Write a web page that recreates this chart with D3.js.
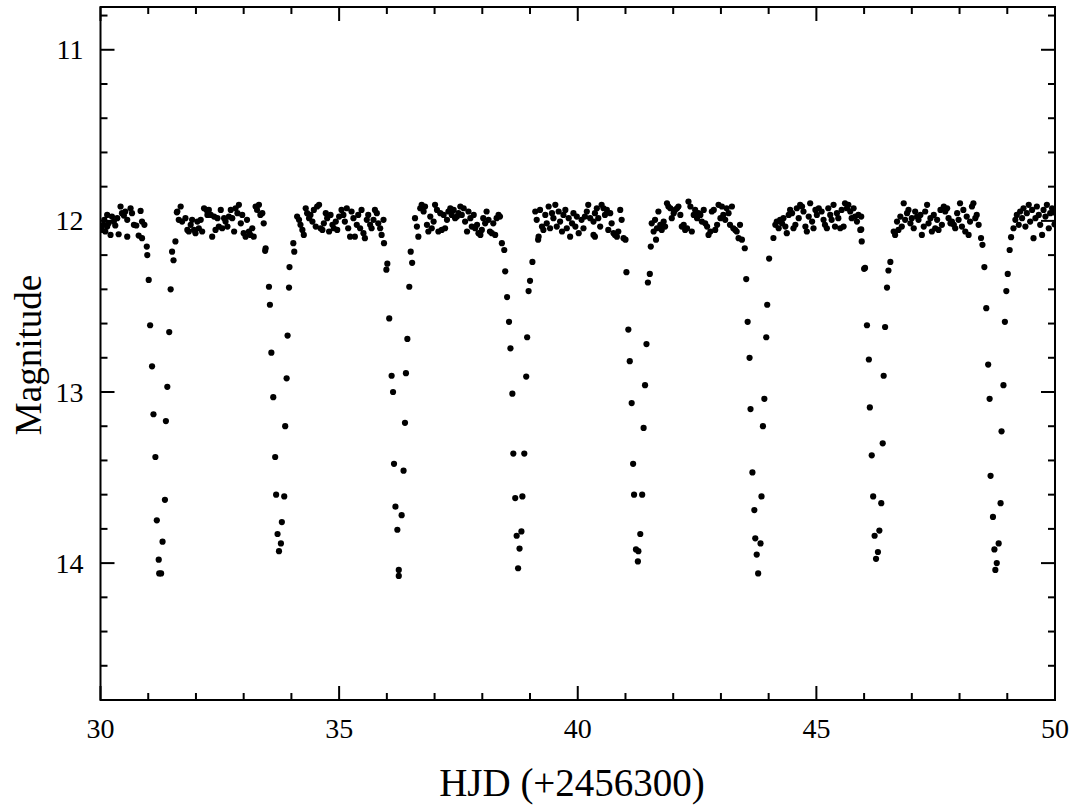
<!DOCTYPE html>
<html>
<head>
<meta charset="utf-8">
<script src="https://cdn.jsdelivr.net/npm/d3@7"></script>
<style>
  html, body { margin: 0; padding: 0; background: #fff; }
  svg { display: block; }
  text { font-family: "Liberation Serif", "Times New Roman", serif; fill: #000; }
</style>
</head>
<body>
<svg id="chart" width="1072" height="806"></svg>
<script>
// Out-of-eclipse photometry, [HJD - 2456300, magnitude]
const brightPhase = [
  [30.03,12.053],[30.06,12.023],[30.08,11.994],[30.10,12.062],[30.14,12.033],[30.14,11.965],[30.17,12.014],
  [30.21,12.082],[30.24,11.975],[30.28,12.004],[30.31,12.027],[30.35,11.984],[30.38,12.078],[30.42,11.916],
  [30.45,11.955],[30.49,11.969],[30.52,11.945],[30.56,11.994],[30.56,12.092],[30.63,11.926],[30.66,11.955],
  [30.70,12.023],[30.75,12.027],[30.80,12.086],[30.84,11.942],[30.87,12.004],[30.87,12.101],[30.92,12.023],
  [31.61,11.945],[31.64,11.994],[31.68,11.916],[31.71,12.004],[31.78,11.984],[31.82,12.053],[31.85,12.062],
  [31.89,12.023],[31.92,11.994],[31.96,12.053],[31.99,12.072],[32.03,12.004],[32.06,12.043],[32.10,11.994],
  [32.13,12.062],[32.17,11.926],[32.22,11.936],[32.24,11.965],[32.27,11.936],[32.31,11.965],[32.34,12.092],
  [32.38,11.975],[32.41,12.053],[32.45,11.984],[32.48,12.033],[32.52,11.936],[32.55,12.043],[32.59,11.984],
  [32.62,12.004],[32.66,12.033],[32.69,11.975],[32.73,11.936],[32.76,11.984],[32.80,12.062],[32.83,11.926],
  [32.87,11.955],[32.90,11.906],[32.94,12.014],[32.97,11.965],[33.00,12.072],[33.04,12.092],[33.07,11.994],
  [33.11,12.062],[33.14,12.082],[33.18,12.043],[33.21,12.092],[33.25,11.916],[33.28,11.936],[33.32,11.906],
  [33.35,11.965],[33.39,11.955],[33.42,12.014],
  [34.12,11.975],[34.16,11.994],[34.19,12.023],[34.23,12.053],[34.26,12.082],[34.30,11.926],[34.33,11.955],
  [34.37,11.984],[34.40,11.965],[34.44,12.004],[34.47,11.936],[34.51,12.033],[34.54,11.916],[34.58,11.906],
  [34.61,12.043],[34.65,12.053],[34.68,12.014],[34.72,11.955],[34.75,11.984],[34.79,12.062],[34.82,11.965],
  [34.86,12.023],[34.89,12.043],[34.93,12.004],[34.96,12.053],[35.00,11.975],[35.05,11.936],[35.09,11.965],
  [35.12,12.004],[35.16,11.926],[35.19,12.043],[35.23,12.092],[35.26,11.945],[35.30,11.984],[35.33,12.092],
  [35.37,12.023],[35.40,11.965],[35.44,12.043],[35.47,11.936],[35.51,12.072],[35.54,12.101],[35.58,11.994],
  [35.61,11.965],[35.65,12.023],[35.68,12.043],[35.72,11.994],[35.75,11.936],[35.79,11.955],[35.82,12.014],
  [35.86,12.043],[35.89,12.082],[35.93,11.994],
  [36.59,11.984],[36.63,12.033],[36.66,12.092],[36.70,11.926],[36.73,11.906],[36.77,11.945],[36.80,11.916],
  [36.84,12.023],[36.87,12.062],[36.91,11.975],[36.94,12.043],[36.98,12.004],[37.01,11.906],[37.05,11.936],
  [37.08,12.062],[37.12,11.955],[37.15,12.053],[37.19,11.965],[37.22,12.043],[37.26,11.994],[37.29,11.945],
  [37.33,11.926],[37.36,11.965],[37.40,11.936],[37.43,11.984],[37.47,11.975],[37.50,11.955],[37.54,11.916],
  [37.57,11.965],[37.61,11.926],[37.64,12.004],[37.68,12.062],[37.71,11.945],[37.75,11.984],[37.78,12.033],
  [37.82,11.965],[37.85,12.043],[37.89,12.023],[37.92,12.072],[37.96,12.082],[37.99,12.053],[38.02,11.984],
  [38.06,12.014],[38.09,11.945],[38.13,11.994],[38.16,12.062],[38.20,12.072],[38.23,12.014],[38.27,12.082],
  [38.30,11.984],[38.34,11.965],[38.37,11.975],
  [39.11,11.945],[39.14,11.994],[39.18,12.092],[39.21,11.936],[39.25,12.033],[39.28,12.053],[39.32,11.965],
  [39.35,12.014],[39.39,11.916],[39.42,12.043],[39.46,11.955],[39.49,11.984],[39.53,11.906],[39.56,12.033],
  [39.60,11.945],[39.63,12.004],[39.67,12.062],[39.70,11.965],[39.74,11.936],[39.77,12.043],[39.81,11.984],
  [39.84,12.092],[39.88,12.014],[39.91,11.955],[39.95,12.033],[39.98,11.975],[40.02,12.072],[40.08,11.994],
  [40.12,12.043],[40.15,11.975],[40.19,11.945],[40.22,11.906],[40.26,11.984],[40.33,12.004],[40.33,12.082],
  [40.36,11.955],[40.36,12.092],[40.40,11.926],[40.43,11.984],[40.47,12.033],[40.50,11.906],[40.54,11.926],
  [40.57,11.965],[40.61,11.936],[40.64,12.053],[40.68,11.955],[40.71,12.014],[40.75,12.072],[40.78,12.082],
  [40.82,12.092],[40.85,12.062],[40.89,11.936],[40.92,11.994],[40.96,12.101],
  [41.55,12.014],[41.59,12.062],[41.62,11.994],[41.66,12.043],[41.69,11.945],[41.73,12.023],[41.76,12.053],
  [41.80,12.004],[41.83,12.033],[41.87,11.897],[41.90,11.916],[41.94,11.926],[41.97,11.984],[42.01,11.955],
  [42.04,11.936],[42.08,11.926],[42.11,11.916],[42.15,11.965],[42.18,12.033],[42.22,12.023],[42.25,12.053],
  [42.29,12.043],[42.32,11.887],[42.36,11.916],[42.39,12.062],[42.43,11.965],[42.46,11.936],[42.50,11.984],
  [42.53,11.955],[42.57,11.965],[42.60,12.004],[42.64,11.936],[42.67,12.014],[42.71,12.033],[42.74,12.082],
  [42.78,12.062],[42.81,11.945],[42.85,11.936],[42.88,12.053],[42.92,12.023],[42.95,11.906],[42.99,11.984],
  [43.02,11.916],[43.05,11.965],[43.09,11.994],[43.12,11.926],[43.16,11.955],[43.19,12.023],[43.23,11.916],
  [43.26,12.043],[43.30,12.053],[43.33,12.062],[43.37,12.101],[43.40,12.023],
  [44.14,12.023],[44.17,12.004],[44.21,12.043],[44.24,11.994],[44.28,12.014],[44.31,11.984],[44.35,12.033],
  [44.38,12.072],[44.42,11.965],[44.45,11.936],[44.49,11.955],[44.52,12.043],[44.56,12.023],[44.59,11.926],
  [44.63,11.984],[44.66,11.906],[44.70,11.916],[44.73,11.945],[44.77,12.033],[44.80,12.062],[44.84,11.975],
  [44.87,11.897],[44.91,12.004],[44.94,12.043],[44.98,11.936],[45.01,11.965],[45.05,11.926],[45.11,11.945],
  [45.15,11.994],[45.18,12.023],[45.22,12.043],[45.25,11.926],[45.29,11.965],[45.32,11.994],[45.36,11.906],
  [45.39,12.033],[45.43,11.955],[45.46,11.984],[45.50,12.043],[45.53,11.936],[45.57,12.033],[45.60,11.897],
  [45.64,11.926],[45.67,11.906],[45.71,11.945],[45.74,11.984],[45.78,11.926],[45.81,11.975],[45.85,12.004],
  [45.88,11.965],[45.92,12.053],
  [46.62,12.062],[46.65,12.082],[46.69,12.004],[46.72,12.053],[46.76,11.975],[46.79,12.033],[46.83,11.897],
  [46.86,11.994],[46.90,11.955],[46.93,11.936],[46.97,12.014],[47.00,11.984],[47.04,12.043],[47.07,11.945],
  [47.11,11.975],[47.14,11.994],[47.18,11.965],[47.21,12.082],[47.25,12.033],[47.28,11.945],[47.32,11.906],
  [47.35,12.014],[47.39,11.984],[47.42,12.062],[47.46,11.965],[47.49,12.043],[47.53,11.994],[47.56,12.053],
  [47.60,11.936],[47.63,12.023],[47.67,11.916],[47.70,11.945],[47.74,11.926],[47.77,11.984],[47.81,12.014],
  [47.84,12.004],[47.88,12.023],[47.91,12.043],[47.95,11.955],[47.98,11.994],[48.01,11.897],[48.05,12.033],
  [48.08,11.936],[48.12,12.062],[48.15,11.975],[48.19,12.082],[48.22,12.004],[48.26,11.916],[48.29,11.897],
  [48.33,11.984],[48.36,11.965],[48.40,12.023],
  [49.13,12.043],[49.17,11.994],[49.20,11.965],[49.24,12.023],[49.27,11.945],[49.31,11.984],[49.34,11.926],
  [49.38,12.033],[49.41,11.955],[49.45,11.906],[49.48,12.004],[49.52,11.936],[49.55,12.101],[49.59,11.984],
  [49.62,11.916],[49.66,11.965],[49.69,12.023],[49.73,12.082],[49.76,11.936],[49.80,11.975],[49.83,11.906],
  [49.87,12.043],[49.90,11.955],[49.94,11.926],[49.97,11.950],[49.99,12.020]
];

// Ingress / egress of each eclipse, [HJD - 2456300, magnitude]
const eclipses = [
  [30.97,12.15],[30.98,12.20],[31.01,12.345],[31.04,12.61],[31.08,12.85],[31.11,13.13],[31.15,13.38],
  [31.18,13.75],[31.22,13.98],[31.23,14.06],[31.27,14.06],[31.30,13.875],[31.35,13.63],[31.37,13.17],
  [31.40,12.97],[31.44,12.65],[31.47,12.40],[31.50,12.18],[31.53,12.23],[31.57,12.12],[31.60,11.95],
  [33.45,12.175],[33.46,12.16],[33.53,12.385],[33.55,12.49],[33.58,12.77],[33.62,13.03],[33.66,13.38],
  [33.68,13.60],[33.71,13.83],[33.74,13.93],[33.78,13.885],[33.80,13.76],[33.85,13.61],[33.87,13.20],
  [33.90,12.92],[33.92,12.67],[33.95,12.39],[33.96,12.27],[34.04,12.13],[34.06,12.18],
  [35.94,12.13],[35.99,12.285],[36.01,12.25],[36.05,12.57],[36.10,12.905],[36.13,13.00],[36.15,13.42],
  [36.18,13.67],[36.22,13.805],[36.25,14.04],[36.25,14.075],[36.31,13.72],[36.35,13.46],[36.38,13.18],
  [36.40,12.89],[36.43,12.69],[36.47,12.385],[36.50,12.18],[36.53,12.245],
  [38.41,12.13],[38.46,12.17],[38.48,12.295],[38.52,12.445],[38.56,12.59],[38.59,12.745],[38.63,13.01],
  [38.65,13.36],[38.69,13.62],[38.72,13.84],[38.75,14.03],[38.78,13.915],[38.82,13.815],[38.84,13.61],
  [38.88,13.36],[38.92,12.91],[38.94,12.68],[38.97,12.41],[39.00,12.35],[39.05,12.24],[39.17,12.11],
  [41.00,12.11],[41.02,12.30],[41.06,12.635],[41.09,12.82],[41.13,13.065],[41.16,13.42],[41.18,13.60],
  [41.22,13.92],[41.26,13.99],[41.27,13.93],[41.31,13.83],[41.35,13.60],[41.38,13.21],[41.41,12.96],
  [41.44,12.72],[41.47,12.36],[41.51,12.31],[41.53,12.15],[41.64,12.11],
  [43.44,12.11],[43.50,12.16],[43.53,12.34],[43.56,12.59],[43.60,12.80],[43.62,13.10],[43.66,13.47],
  [43.70,13.69],[43.72,13.855],[43.75,13.95],[43.78,14.06],[43.83,13.885],[43.85,13.61],[43.88,13.20],
  [43.91,13.04],[43.95,12.68],[43.97,12.49],[44.01,12.22],[44.10,12.10],
  [45.94,11.975],[45.94,12.05],[45.95,12.12],[46.00,12.28],[46.02,12.275],[46.06,12.61],[46.10,12.81],
  [46.12,13.09],[46.16,13.37],[46.19,13.61],[46.22,13.84],[46.25,13.975],[46.29,13.935],[46.32,13.81],
  [46.36,13.65],[46.39,13.30],[46.41,12.905],[46.44,12.62],[46.48,12.39],[46.51,12.29],[46.55,12.24],
  [48.45,12.10],[48.48,12.14],[48.52,12.27],[48.56,12.51],[48.60,12.84],[48.63,13.04],[48.65,13.49],
  [48.70,13.73],[48.73,13.92],[48.75,14.04],[48.78,14.00],[48.82,13.885],[48.86,13.65],[48.88,13.23],
  [48.92,12.96],[48.95,12.59],[48.98,12.41],[49.01,12.31],[49.05,12.17],[49.08,12.095]
];

const xDomain = [30, 50];
const yDomain = [10.75, 14.8];
const xMajor = [30, 35, 40, 45, 50];
const yMajor = [11, 12, 13, 14];
const xTitle = "HJD (+2456300)";
const yTitle = "Magnitude";

const svg = d3.select("#chart");
const plotL = 100.5, plotR = 1055, plotT = 7, plotB = 700;

const x = d3.scaleLinear().domain(xDomain).range([plotL, plotR]);
const y = d3.scaleLinear().domain(yDomain).range([plotT, plotB]);

const xMinor = d3.range(30, 50.001, 1);
const yMinor = d3.range(10.8, 14.801, 0.2).map(v => +v.toFixed(1));

svg.append("clipPath").attr("id", "plot-clip")
  .append("rect").attr("x", plotL).attr("y", plotT)
  .attr("width", plotR - plotL).attr("height", plotB - plotT);

// data points
const pts = brightPhase.concat(eclipses);
svg.append("g").attr("clip-path", "url(#plot-clip)")
  .selectAll("circle").data(pts).join("circle")
  .attr("cx", d => x(d[0])).attr("cy", d => y(d[1]))
  .attr("r", 3.1).attr("fill", "#000");

// frame
svg.append("rect").attr("x", plotL).attr("y", plotT)
  .attr("width", plotR - plotL).attr("height", plotB - plotT)
  .attr("fill", "none").attr("stroke", "#000").attr("stroke-width", 2);

const tickStyle = sel => sel.attr("stroke", "#000").attr("stroke-width", 2);
const isMajorX = v => xMajor.some(m => Math.abs(m - v) < 1e-6);
const isMajorY = v => yMajor.some(m => Math.abs(m - v) < 1e-6);

// inward ticks on all four sides
const tg = svg.append("g");
xMinor.forEach(v => {
  const len = isMajorX(v) ? 14 : 7;
  tg.append("line").attr("x1", x(v)).attr("x2", x(v)).attr("y1", plotB).attr("y2", plotB - len).call(tickStyle);
  tg.append("line").attr("x1", x(v)).attr("x2", x(v)).attr("y1", plotT).attr("y2", plotT + len).call(tickStyle);
});
yMinor.forEach(v => {
  const len = isMajorY(v) ? 14 : 7;
  tg.append("line").attr("y1", y(v)).attr("y2", y(v)).attr("x1", plotL).attr("x2", plotL + len).call(tickStyle);
  tg.append("line").attr("y1", y(v)).attr("y2", y(v)).attr("x1", plotR).attr("x2", plotR - len).call(tickStyle);
});

// tick labels
svg.append("g").selectAll("text").data(xMajor).join("text")
  .attr("x", d => x(d)).attr("y", plotB + 38)
  .attr("text-anchor", "middle").attr("font-size", 28).text(d => d);
svg.append("g").selectAll("text").data(yMajor).join("text")
  .attr("x", plotL - 17).attr("y", d => y(d)).attr("dy", "0.34em")
  .attr("text-anchor", "end").attr("font-size", 28).text(d => d);

// axis titles
svg.append("text").attr("x", 572).attr("y", 796)
  .attr("text-anchor", "middle").attr("font-size", 39).text(xTitle);
svg.append("text").attr("transform", `translate(41, 355) rotate(-90)`)
  .attr("text-anchor", "middle").attr("font-size", 37).text(yTitle);
</script>
</body>
</html>
